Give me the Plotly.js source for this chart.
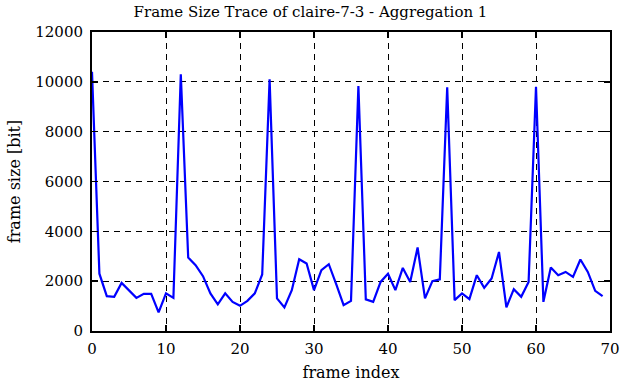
<!DOCTYPE html>
<html>
<head>
<meta charset="utf-8">
<script src="https://cdn.plot.ly/plotly-3.0.1.min.js"></script>
<style>html,body{margin:0;padding:0;background:#fff;}#chart{width:621px;height:382px;}</style>
</head>
<body>
<div id="chart"></div>
<script>
const frameIndex = [];
for (let i = 0; i < 70; i++) frameIndex.push(i);
const frameSize = [
  10400, 2300, 1400, 1370, 1930, 1640, 1330, 1490, 1490, 750,
  1510, 1330, 10300, 2950, 2640, 2200, 1510, 1070, 1510, 1170,
  1010, 1210, 1510, 2270, 10100, 1310, 950, 1640, 2880, 2710,
  1640, 2440, 2680, 1880, 1040, 1210, 9830, 1270, 1170, 1970,
  2300, 1640, 2530, 1970, 3350, 1310, 2000, 2070, 9780, 1240,
  1510, 1280, 2240, 1730, 2110, 3170, 950, 1680, 1370, 1970,
  9800, 1170, 2550, 2240, 2370, 2170, 2870, 2370, 1610, 1400
];
const xTicks = [0, 10, 20, 30, 40, 50, 60, 70];
const yTicks = [0, 2000, 4000, 6000, 8000, 10000, 12000];

const fontFam = 'DejaVu Serif, serif';
const axisCommon = {
  showline: true, linecolor: '#000', linewidth: 2, mirror: 'ticks',
  ticks: 'inside', ticklen: 6, tickwidth: 1.5, tickcolor: '#000',
  showgrid: true, gridcolor: '#000', gridwidth: 1, griddash: '6px,5px',
  zeroline: false, tickfont: {family: fontFam, size: 15, color: '#000'}
};

Plotly.newPlot('chart', [{
  x: frameIndex, y: frameSize, type: 'scatter', mode: 'lines',
  line: {color: '#0000ff', width: 2.2}, hoverinfo: 'none'
}], {
  width: 621, height: 382,
  margin: {l: 92, r: 11, t: 32, b: 51, pad: 0},
  paper_bgcolor: '#fff', plot_bgcolor: '#fff',
  showlegend: false,
  title: {text: 'Frame Size Trace of claire-7-3 - Aggregation 1', x: 0.5, xanchor: 'center', y: 0.97, yanchor: 'middle',
          font: {family: fontFam, size: 15, color: '#000'}},
  xaxis: Object.assign({}, axisCommon, {
    range: [0, 70], tickmode: 'array', tickvals: xTicks, ticktext: xTicks.map(String),
    ticklabelstandoff: 3,
    title: {text: 'frame index', font: {family: fontFam, size: 16, color: '#000'}, standoff: 12}
  }),
  yaxis: Object.assign({}, axisCommon, {
    range: [0, 12000], tickmode: 'array', tickvals: yTicks, ticktext: yTicks.map(String),
    ticklabelstandoff: 4,
    title: {text: 'frame size [bit]', font: {family: fontFam, size: 16, color: '#000'}, standoff: 11}
  })
}, {staticPlot: true, displayModeBar: false});
</script>
</body>
</html>
